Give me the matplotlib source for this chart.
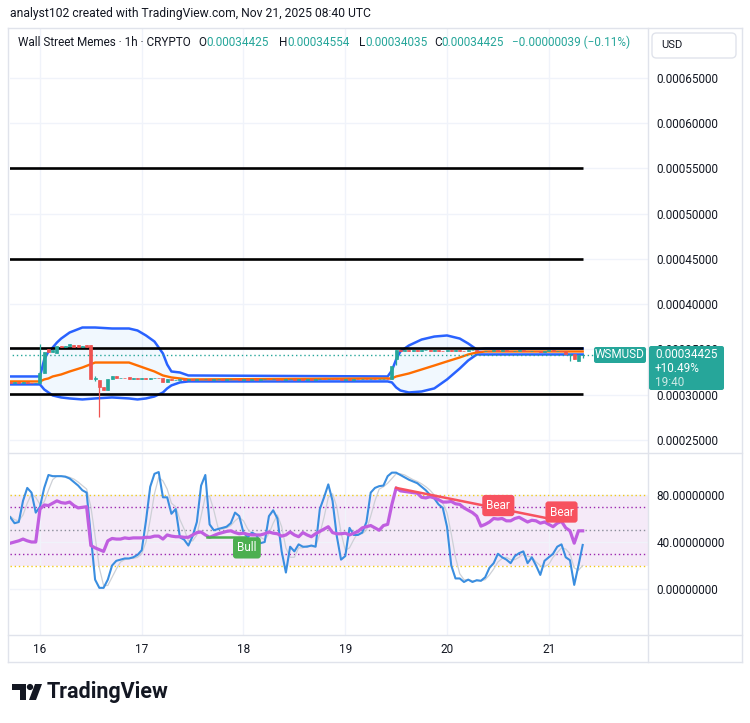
import numpy as np
import matplotlib
matplotlib.use("Agg")
import matplotlib.pyplot as plt
from matplotlib.patches import FancyBboxPatch, Polygon, Circle
from matplotlib.lines import Line2D

plt.rcParams['font.family'] = ['Roboto', 'DejaVu Sans']

# ---- data (prices in 1e-8 USD, one candle per hour from Nov 15 17:00) ----
opens = [31380, 31300, 31360, 31320, 31380, 31330, 31290, 31340, 32350, 35100,
         34750, 34650, 35440, 35250, 35440, 35520, 35500, 35250, 35480, 35450,
         31700, 31590, 30830, 30500, 31690, 32020, 31800, 31830, 31950, 31750,
         31800, 31780, 31820, 31790, 31830, 31850, 31800, 31450, 31700, 31600,
         31660, 31700, 31640, 31720, 31680, 31750, 31690, 31730, 31660, 31700,
         31740, 31680, 31720, 31760, 31700, 31650, 31710, 31670, 31700, 31660,
         31690, 31740, 31700, 31730, 31680, 31640, 31690, 31720, 31670, 31700,
         31660, 31700, 31680, 31710, 31760, 31720, 31780, 31700, 31690, 31660,
         31700, 31680, 31720, 31700, 31750, 31720, 31760, 31700, 31740, 31770,
         31720, 34000, 34890, 34800, 34950, 34850, 34920, 34820, 34900, 34960,
         34860, 34930, 34850, 34800, 34900, 34850, 34950, 34880, 34820, 34900,
         34960, 34870, 34800, 34880, 34830, 34900, 34850, 34920, 34860, 34800,
         34880, 34940, 34850, 34790, 34870, 34830, 34760, 34850, 34900, 34820,
         34870, 34800, 34480, 34520, 33700, 34425]
closes = [31300, 31360, 31320, 31380, 31330, 31290, 31340, 32350, 34670, 34750,
          34900, 35440, 35250, 35440, 35560, 35260, 35250, 35440, 35280, 31700,
          31900, 30830, 30500, 31690, 32020, 31800, 31830, 31810, 31750, 31800,
          31780, 31820, 31790, 31830, 31850, 31800, 31450, 31700, 31600, 31660,
          31700, 31640, 31720, 31680, 31750, 31690, 31730, 31660, 31700, 31740,
          31680, 31720, 31760, 31700, 31650, 31710, 31670, 31700, 31660, 31690,
          31740, 31700, 31730, 31680, 31640, 31690, 31720, 31670, 31700, 31660,
          31700, 31680, 31710, 31760, 31720, 31780, 31700, 31690, 31660, 31700,
          31680, 31720, 31700, 31750, 31720, 31760, 31700, 31740, 31770, 31720,
          33230, 34890, 34800, 34950, 34850, 34920, 34820, 34900, 34960, 34860,
          34930, 34850, 34800, 34900, 34850, 34950, 34880, 34820, 34900, 34960,
          34870, 34800, 34880, 34830, 34900, 34850, 34920, 34860, 34800, 34880,
          34940, 34850, 34790, 34870, 34830, 34760, 34850, 34900, 34820, 34870,
          34800, 34480, 34520, 33900, 34420, 34425]
wick_high = {7: 35660, 20: 32100, 135: 34554}
wick_low = {20: 31500, 21: 27500, 91: 33300, 132: 33750, 135: 34035}

# Bollinger bands read at selected hours
bb_idx = [0, 7, 8, 9, 10, 11, 12, 14, 17, 20, 24, 28, 30, 32, 34, 36, 37, 38, 40, 42,
          89, 90, 91, 92, 94, 97, 100, 103, 106, 108, 110, 112, 135]
bb_upper = [32020, 32020, 33900, 34780, 35220, 35770, 36210, 36880, 37430, 37430,
            37320, 37320, 37100, 36550, 35880, 34560, 33340, 32570, 32460, 32130,
            32020, 32680, 33900, 34780, 35440, 36100, 36430, 36550, 36210, 35660,
            35000, 35110, 35110]
bb_mid = [31470, 31470, 31690, 31800, 32020, 32130, 32240, 32570, 33010, 33560,
          33560, 33560, 33230, 32900, 32570, 32130, 32020, 31910, 31800, 31690,
          31800, 31800, 32020, 32130, 32350, 32790, 33230, 33680, 34120, 34450,
          34670, 34780, 34780]
bb_lower = [31140, 31140, 30580, 30250, 29920, 29810, 29700, 29590, 29480, 29590,
            29700, 29590, 29480, 29590, 29810, 30250, 30700, 31030, 31360, 31470,
            31470, 31360, 30810, 30470, 30250, 30360, 30700, 31690, 32900, 33790,
            34450, 34450, 34450]

level_lines = [55000, 45000, 35110, 30050]
last_price = 34425

rsi = [39, 40, 41, 42.5, 41, 40, 40, 68, 71.5, 71,
       73, 75, 73.5, 73, 74, 71, 69, 69.5, 70, 37,
       35, 33.5, 32, 41, 43, 42.5, 42.5, 43.5, 43, 43.5,
       43.5, 43.5, 44, 44, 45, 45, 42.5, 46, 45, 44.5,
       44.5, 44, 44, 46, 48, 48.5, 46, 44, 45.5, 47,
       48, 49, 49.5, 48, 47, 47.5, 46.5, 46, 46, 46,
       47, 48.5, 47.5, 47, 45, 46, 48.5, 46, 44.5, 48,
       46, 44.5, 47, 49, 51, 53, 48, 47, 47, 47.5,
       46, 47.5, 49, 52, 53, 54, 52, 50, 54, 55,
       72, 86, 83.5, 83, 82.5, 82, 81.5, 78, 77.5, 78.5,
       77.5, 76, 74, 74, 74.5, 72.5, 72, 69, 67, 65,
       62, 53.5, 55, 57, 60, 59.5, 60, 58, 58, 60,
       61, 59, 57, 58.5, 58, 56, 57, 55, 53, 56,
       57.5, 52, 49.5, 39, 49.5, 49.5]
stoch_k = [61, 56, 57, 75, 86, 82, 65, 70, 86, 97,
           96, 96, 96, 95.5, 94, 91, 88, 84, 82, 45,
           8, 1, 1, 8, 20, 24, 25, 26, 26, 27,
           29, 33, 58, 87, 98, 99.5, 78, 78, 64, 68,
           44, 42, 37, 45, 57, 88, 97, 55, 50, 51,
           52, 53, 56, 65, 62, 48, 44, 48, 46, 39,
           40, 62, 67, 60, 32, 14, 36, 32, 38, 36,
           36, 37, 36, 68, 78, 89, 75, 45, 25, 28,
           52, 46, 46, 48, 57, 82, 86, 87.5, 88, 96,
           99, 99, 97, 95, 93, 91.5, 90, 87, 84, 80,
           77, 72, 69, 53, 20, 9, 9, 6, 8, 6,
           7.5, 7, 10, 18, 22, 30, 27, 25, 22, 28,
           30.5, 32, 22, 27, 20, 12, 24, 27, 30, 36,
           38, 27, 24.5, 3.5, 20, 37.5]
stoch_d = [62, 59, 58, 63, 73, 81, 78, 72, 74, 84,
           93, 96, 96, 96, 95, 93.5, 91, 88, 85, 70,
           45, 18, 3, 3, 10, 17, 23, 25, 26, 26,
           27, 30, 40, 59, 81, 95, 92, 85, 73, 70,
           59, 51, 41, 41, 46, 62, 79, 79, 67, 52,
           51, 52, 54, 58, 61, 58, 51, 47, 46, 44,
           42, 47, 56, 63, 53, 35, 27, 27, 35, 35,
           37, 36, 36, 47, 61, 78, 81, 70, 48, 33,
           35, 42, 48, 47, 50, 62, 75, 85, 87, 90,
           94, 98, 98, 97, 95, 93, 91.5, 89.5, 87, 84,
           80, 76, 73, 65, 47, 27, 13, 8, 8, 7,
           7, 7, 8, 12, 17, 23, 26, 27, 25, 25,
           27, 30, 28, 27, 23, 20, 19, 21, 27, 31,
           35, 34, 30, 18, 16, 20]

bear_line_idx = [91, 129]
bear_line_val = [86, 58.5]
bull_line_idx = [46.5, 55.3]
bull_line_val = [44.3, 44.3]
labels = [("Bear", 115.1, 71, '#f7525f'), ("Bear", 130, 65.5, '#f7525f'), ("Bull", 55.8, 35, '#4caf50')]

day_idx = [7, 31, 55, 79, 103, 127]
day_lbl = ['16', '17', '18', '19', '20', '21']
price_ticks = list(range(25000, 70000, 5000))

GREEN = '#26a69a'
RED = '#ef5350'
DARK = '#131722'
GRID = '#f0f3fa'
BORDER = '#e0e3eb'

W, H = 750, 723
def fx(px): return px / W
def fy(py): return 1 - py / H

fig = plt.figure(figsize=(7.5, 7.23), dpi=100)
ax = fig.add_axes([fx(10), fy(452), fx(648) - fx(10), fy(28) - fy(452)])
ax2 = fig.add_axes([fx(10), fy(635), fx(648) - fx(10), fy(453) - fy(635)])
XL = (-0.07, 150.4)

# ---- main pane ----
o = np.array(opens, float)
c = np.array(closes, float)
hi = np.maximum(o, c)
lo = np.minimum(o, c)
for k, v in wick_high.items():
    hi[k] = v
for k, v in wick_low.items():
    lo[k] = v
idx = np.arange(len(o))
cols = np.where(c >= o, GREEN, RED)

ax.fill_between(bb_idx, bb_lower, bb_upper, color='#2196f3', alpha=0.06, lw=0, zorder=1)
ax.plot(bb_idx, bb_upper, color='#2962ff', lw=1.8, zorder=2)
ax.plot(bb_idx, bb_lower, color='#2962ff', lw=1.8, zorder=2)
ax.plot(bb_idx, bb_mid, color='#ff6d00', lw=1.7, zorder=2)
for v in level_lines:
    ax.hlines(v, -0.5, 135, color='black', lw=1.9, zorder=3)
ax.hlines(last_price, -0.5, 137.7, color=GREEN, lw=1, ls=(0, (1, 2)), zorder=3)
ax.vlines(idx, lo, hi, colors=cols, lw=0.9, zorder=4)
ax.bar(idx, np.abs(c - o), bottom=np.minimum(o, c), width=0.7,
       color=cols, edgecolor=cols, lw=0.5, zorder=5)

ax.set_xlim(*XL)
ax.set_ylim(23673, 70525)
for s in ax.spines.values():
    s.set_visible(False)
ax.set_xticks(day_idx)
ax.tick_params(axis='x', length=0, labelbottom=False)
ax.yaxis.tick_right()
ax.set_yticks(price_ticks)
ax.set_yticklabels([f"{v * 1e-8:.8f}" for v in price_ticks])
ax.tick_params(axis='y', length=0, pad=6, labelsize=8.5, labelcolor=DARK)
ax.grid(True, color=GRID, lw=1, zorder=0)
ax.set_axisbelow(True)

# ---- oscillator pane ----
ax2.axhspan(20, 80, color='#f5eaf8', lw=0, zorder=0.5)
ax2.axhline(80, color='#f2c81a', lw=1, ls=(0, (1, 2)), zorder=1)
ax2.axhline(20, color='#f2c81a', lw=1, ls=(0, (1, 2)), zorder=1)
ax2.axhline(70, color='#9c27b0', lw=1, ls=(0, (1, 2)), zorder=1)
ax2.axhline(30, color='#9c27b0', lw=1, ls=(0, (1, 2)), zorder=1)
ax2.axhline(50, color='#8a8d99', lw=1, ls=(0, (1, 2)), zorder=1)
ax2.plot(idx, stoch_d, color='#cdd0d6', lw=0.9, zorder=2)
ax2.plot(idx, stoch_k, color='#3a8ee0', lw=1.5, zorder=3)
ax2.plot(idx, rsi, color='#c05ee0', lw=2.3, zorder=4)
ax2.plot(bear_line_idx, bear_line_val, color='#f7525f', lw=1.8, zorder=5)
ax2.plot(bull_line_idx, bull_line_val, color='#4caf50', lw=1.8, zorder=5)
for txt, xi, yv, col in labels:
    ax2.text(xi, yv, txt, color='white', fontsize=8.5, ha='center', va='center', zorder=6,
             bbox=dict(boxstyle='round,pad=0.35,rounding_size=0.25', fc=col, ec='none'))

ax2.set_xlim(*XL)
ax2.set_ylim(-39.1, 115.7)
for s in ax2.spines.values():
    s.set_visible(False)
ax2.set_xticks(day_idx)
ax2.set_xticklabels(day_lbl)
ax2.tick_params(axis='x', length=0, pad=6, labelsize=8.5, labelcolor=DARK)
ax2.yaxis.tick_right()
ax2.set_yticks([0, 40, 80])
ax2.set_yticklabels([f"{v:.8f}" for v in [0, 40, 80]])
ax2.tick_params(axis='y', length=0, pad=6, labelsize=8.5, labelcolor=DARK)
ax2.grid(True, color=GRID, lw=1, zorder=0)
ax2.set_axisbelow(True)

# ---- frame lines ----
def fline(x0, y0, x1, y1, col=BORDER, lw=1):
    fig.add_artist(Line2D([fx(x0), fx(x1)], [fy(y0), fy(y1)], color=col, lw=lw))

fline(8, 28, 742, 28)
fline(8, 662, 742, 662)
fline(8, 28, 8, 662)
fline(742, 28, 742, 662)
fline(8, 452.5, 742, 452.5)
fline(8, 635, 742, 635)
fline(648, 28, 648, 662)

def fbox(x0, y0, x1, y1, col, rounded=0.0, ec='none', z=5):
    fig.add_artist(FancyBboxPatch((fx(x0), fy(y1)), fx(x1) - fx(x0), fy(y0) - fy(y1),
                                  boxstyle=f'round,pad=0,rounding_size={rounded}',
                                  transform=fig.transFigure, fc=col, ec=ec, lw=1, zorder=z))

# price labels on the right (the tag covers most of the 0.00035000 scale label, as in TradingView)
fbox(594, 347, 646, 363, GREEN, 0.003)
fig.text(fx(620), fy(355), "WSMUSD", color='white', fontsize=8.5, ha='center', va='center', zorder=6)
fbox(649, 346, 724, 390, GREEN, 0.003)
fig.text(fx(655), fy(354), "0.00034425", color='white', fontsize=8.5, ha='left', va='center', zorder=6)
fig.text(fx(655), fy(368), "+10.49%", color='white', fontsize=8.5, ha='left', va='center', zorder=6)
fig.text(fx(655), fy(382), "19:40", color='#cdeae5', fontsize=8.5, ha='left', va='center', zorder=6)

# USD box
fbox(652, 33, 736, 58, 'white', 0.006, ec=BORDER)
fig.text(fx(661), fy(45.5), "USD", color=DARK, fontsize=8, ha='left', va='center', zorder=6)

# header
fig.text(fx(10), fy(14), "analyst102 created with TradingView.com, Nov 21, 2025 08:40 UTC",
         color=DARK, fontsize=8.7, ha='left', va='center')
renderer = fig.canvas.get_renderer()
def seq(x, y, parts, size=8.5):
    for s, col in parts:
        t = fig.text(fx(x), fy(y), s, color=col, fontsize=size, ha='left', va='center')
        x += t.get_window_extent(renderer).width
    return x

seq(18, 42, [("Wall Street Memes · 1h · CRYPTO", DARK)])
seq(198, 42, [("O", DARK), ("0.00034425", GREEN)])
seq(279, 42, [("H", DARK), ("0.00034554", GREEN)])
seq(359, 42, [("L", DARK), ("0.00034035", GREEN)])
seq(434, 42, [("C", DARK), ("0.00034425", GREEN)])
seq(512, 42, [("−0.00000039 (−0.11%)", GREEN)])

# TradingView logo
fig.add_artist(Polygon([(fx(12), fy(684)), (fx(26), fy(684)), (fx(26), fy(700)),
                        (fx(19.5), fy(700)), (fx(19.5), fy(690)), (fx(12), fy(690))],
                       closed=True, transform=fig.transFigure, fc=DARK, ec='none'))
fig.add_artist(Circle((fx(30), fy(687)), 3.2 / W, transform=fig.transFigure, fc=DARK, ec='none'))
fig.add_artist(Polygon([(fx(35), fy(684)), (fx(42), fy(684)), (fx(36), fy(700)), (fx(29), fy(700))],
                       closed=True, transform=fig.transFigure, fc=DARK, ec='none'))
fig.text(fx(47), fy(692), "TradingView", color=DARK, fontsize=15.5, fontweight='bold',
         ha='left', va='center')

fig.savefig('out.png', dpi=100, facecolor='white')
